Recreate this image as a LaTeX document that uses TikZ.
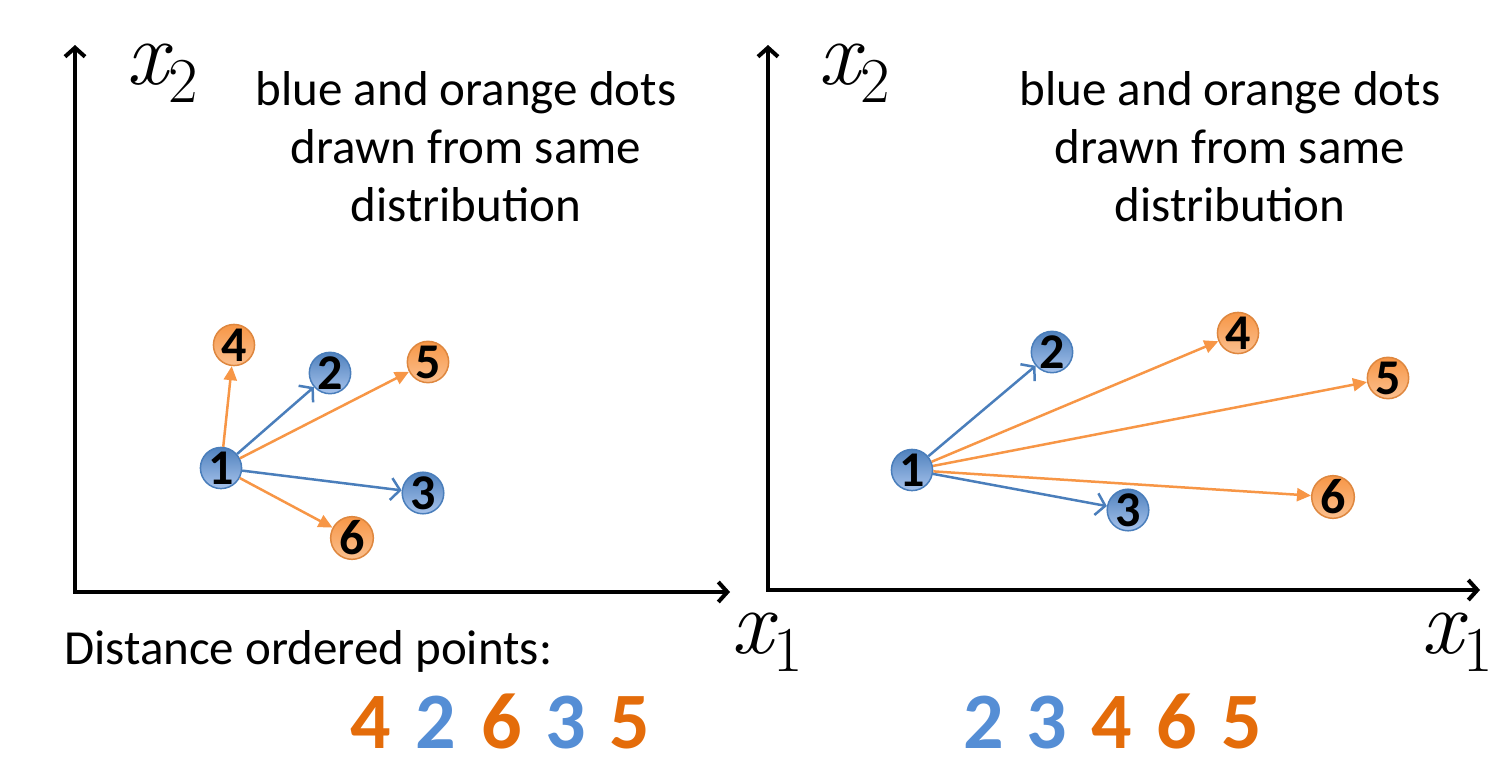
\documentclass[tikz,border=0pt]{standalone}
\usepackage{fontspec}
\setmainfont{Carlito}
\newfontfamily\lmr{Latin Modern Roman}
\usetikzlibrary{arrows.meta}
\definecolor{bdot}{HTML}{4F81BD}
\definecolor{bdotlight}{HTML}{A7C3EC}
\definecolor{bline}{HTML}{4A7EBB}
\definecolor{odot}{HTML}{F79646}
\definecolor{odotlight}{HTML}{FBC08F}
\definecolor{oline}{HTML}{F79646}
\definecolor{onum}{HTML}{E46C0A}
\definecolor{bnum}{HTML}{558ED5}
\newcommand{\axvar}[1]{{\fontsize{92}{92}\lmr\itshape x}\kern1pt\raisebox{-18pt}{\fontsize{64}{64}\lmr #1}}
\tikzset{
  axis/.style={line width=4pt, -{Straight Barb[length=9pt,width=20pt,line width=4pt]}},
  bluedot/.style={circle, minimum size=40pt, inner sep=0pt, draw=bline, line width=1.5pt,
    top color=bdot, bottom color=bdotlight, font=\fontsize{50}{50}\selectfont\bfseries},
  orangedot/.style={circle, minimum size=40pt, inner sep=0pt, draw=odot!90!black, line width=1.5pt,
    top color=odot, bottom color=odotlight, font=\fontsize{50}{50}\selectfont\bfseries},
  bluearrow/.style={draw=bline, line width=2.5pt, -{Straight Barb[length=9pt,width=22pt,line width=2.5pt]}},
  orangearrow/.style={draw=oline, line width=2.5pt, -{Triangle[length=14pt,width=13pt]}},
  axlabel/.style={inner sep=0pt, anchor=base west},
  note/.style={font=\fontsize{49}{58}\selectfont, align=center, inner sep=0pt},
  bignum/.style={font=\fontsize{80}{80}\selectfont\bfseries, anchor=base, inner sep=0pt},
}
\begin{document}
\begin{tikzpicture}[x=1pt,y=-1pt]
\useasboundingbox (0,0) rectangle (1502,758);
% left axes
\coordinate (lo) at (75,592);
\coordinate (ly) at (75,45);
\coordinate (lx) at (730,592);
\draw[axis] ([yshift=2pt]lo) -- (ly);
\draw[axis] ([xshift=-2pt]lo) -- (lx);
% right axes
\coordinate (ro) at (768,590);
\coordinate (ry) at (768,45);
\coordinate (rx) at (1480,590);
\draw[axis] ([yshift=2pt]ro) -- (ry);
\draw[axis] ([xshift=-2pt]ro) -- (rx);
% axis labels
\node[axlabel] (lx2) at (126,84) {\axvar{2}};
\node[axlabel] (rx2) at (818,84) {\axvar{2}};
\node[axlabel] (lx1) at (731,653) {\axvar{1}};
\node[axlabel] (rx1) at (1421,653) {\axvar{1}};
% notes
\node[note] (lnote) at (466,147) {blue and orange dots\\drawn from same\\distribution};
\node[note] (rnote) at (1230,147) {blue and orange dots\\drawn from same\\distribution};
% left dots
\node[bluedot] (a1) at (221,468) {1};
\node[bluedot] (a2) at (330,373) {2};
\node[bluedot] (a3) at (423,493) {3};
\node[orangedot] (a4) at (234,345) {4};
\node[orangedot] (a5) at (428,362) {5};
\node[orangedot] (a6) at (352,538) {6};
\draw[orangearrow] (a1) -- (a4);
\draw[bluearrow] (a1) -- (a2);
\draw[orangearrow] (a1) -- (a5);
\draw[bluearrow] (a1) -- (a3);
\draw[orangearrow] (a1) -- (a6);
% right dots
\node[bluedot] (b1) at (912,470) {1};
\node[bluedot] (b2) at (1052,352) {2};
\node[bluedot] (b3) at (1128,510) {3};
\node[orangedot] (b4) at (1238,333) {4};
\node[orangedot] (b5) at (1388,378) {5};
\node[orangedot] (b6) at (1333,497) {6};
\draw[bluearrow] (b1) -- (b2);
\draw[orangearrow] (b1) -- (b4);
\draw[orangearrow] (b1) -- (b5);
\draw[orangearrow] (b1) -- (b6);
\draw[bluearrow] (b1) -- (b3);
% distance text
\node[font=\fontsize{49}{49}\selectfont, anchor=base west, inner sep=0pt] (dist) at (64,664) {Distance ordered points:};
\node[bignum, text=onum] (l4) at (371,748) {4};
\node[bignum, text=bnum] (l2) at (436,748) {2};
\node[bignum, text=onum] (l6) at (502,748) {6};
\node[bignum, text=bnum] (l3) at (566,748) {3};
\node[bignum, text=onum] (l5) at (630,748) {5};
\node[bignum, text=bnum] (r2) at (984,748) {2};
\node[bignum, text=bnum] (r3) at (1047,748) {3};
\node[bignum, text=onum] (r4) at (1112,748) {4};
\node[bignum, text=onum] (r6) at (1177,748) {6};
\node[bignum, text=onum] (r5) at (1242,748) {5};
\end{tikzpicture}
\end{document}
